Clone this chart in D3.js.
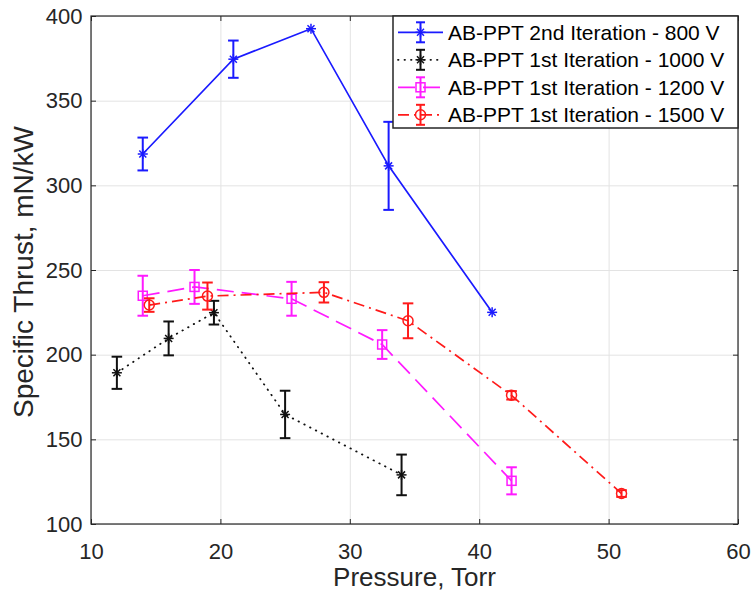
<!DOCTYPE html>
<html>
<head>
<meta charset="utf-8">
<script src="https://cdn.jsdelivr.net/npm/d3@7"></script>
<style>
  body { margin: 0; background: #fff; }
  svg { display: block; font-family: "Liberation Sans", Arial, sans-serif; }
</style>
</head>
<body>
<svg id="chart" width="754" height="596"></svg>
<script>
// pressure (Torr), specific thrust (mN/kW), +/- error
const pressure800 = [14, 21, 27, 33, 41]
const thrust800 = [318.5, 374.5, 392.5, 311.5, 225]
const err800 = [9.7, 11, 0, 26, 0]

const pressure1000 = [12, 16, 19.5, 25, 34]
const thrust1000 = [189.3, 209.6, 224.8, 164.7, 129]
const err1000 = [9.5, 10, 7, 14, 12]

const pressure1200 = [14, 18, 25.5, 32.5, 42.5]
const thrust1200 = [234.8, 240, 233, 206, 125.5]
const err1200 = [11.8, 10, 10, 8.5, 8]

const pressure1500 = [14.5, 19, 28, 34.5, 42.5, 51]
const thrust1500 = [229.3, 234.6, 236.8, 220, 176, 118]
const err1500 = [4, 8, 6, 10.3, 2.5, 2]

const xTicks = [10, 20, 30, 40, 50, 60]
const yTicks = [100, 150, 200, 250, 300, 350, 400]

const seriesNames = [
  "AB-PPT 2nd Iteration - 800 V",
  "AB-PPT 1st Iteration - 1000 V",
  "AB-PPT 1st Iteration - 1200 V",
  "AB-PPT 1st Iteration - 1500 V",
]

const series = [
  { name: seriesNames[0], x: pressure800, y: thrust800, e: err800, color: "#1a1aff", dash: null, marker: "star", lw: 1.7 },
  { name: seriesNames[1], x: pressure1000, y: thrust1000, e: err1000, color: "#111111", dash: "0.5,6", marker: "star", lw: 1.8 },
  { name: seriesNames[2], x: pressure1200, y: thrust1200, e: err1200, color: "#ff1aff", dash: "17,8", marker: "square", lw: 1.7 },
  { name: seriesNames[3], x: pressure1500, y: thrust1500, e: err1500, color: "#ff1a1a", dash: "11,5,2,5", marker: "circle", lw: 1.7 },
]

const margin = { left: 91, top: 16, right: 16, bottom: 72 }
const width = 754 - margin.left - margin.right
const height = 596 - margin.top - margin.bottom
const textColor = "#262626"

const svg = d3.select("#chart")
svg.append("rect").attr("width", 754).attr("height", 596).attr("fill", "#fff")

const g = svg.append("g").attr("transform", `translate(${margin.left},${margin.top})`)

const x = d3.scaleLinear().domain([10, 60]).range([0, width])
const y = d3.scaleLinear().domain([100, 400]).range([height, 0])

// grid
g.append("g")
  .attr("transform", `translate(0,${height})`)
  .call(d3.axisBottom(x).tickValues(xTicks).tickSize(-height).tickFormat(""))
  .call((s) => s.select(".domain").remove())
  .call((s) => s.selectAll("line").attr("stroke", "#e3e3e3").attr("stroke-width", 1))
g.append("g")
  .call(d3.axisLeft(y).tickValues(yTicks).tickSize(-width).tickFormat(""))
  .call((s) => s.select(".domain").remove())
  .call((s) => s.selectAll("line").attr("stroke", "#e3e3e3").attr("stroke-width", 1))

// axes
const styleAxis = (s) => {
  s.select(".domain").remove()
  s.selectAll("line").attr("stroke", textColor)
  s.selectAll("text").attr("fill", textColor).style("font-size", "22px")
}
g.append("g")
  .attr("transform", `translate(0,${height})`)
  .call(d3.axisBottom(x).tickValues(xTicks).tickSize(-5).tickPadding(19))
  .call(styleAxis)
g.append("g")
  .call(d3.axisTop(x).tickValues(xTicks).tickSize(-5).tickFormat(""))
  .call(styleAxis)
g.append("g")
  .call(d3.axisLeft(y).tickValues(yTicks).tickSize(-5).tickPadding(8.5))
  .call(styleAxis)
g.append("g")
  .attr("transform", `translate(${width},0)`)
  .call(d3.axisRight(y).tickValues(yTicks).tickSize(-5).tickFormat(""))
  .call(styleAxis)

g.append("rect")
  .attr("width", width).attr("height", height)
  .attr("fill", "none").attr("stroke", textColor).attr("stroke-width", 1.2)

// axis labels
svg.append("text")
  .attr("x", margin.left + width / 2).attr("y", 586)
  .attr("text-anchor", "middle").attr("fill", textColor)
  .style("font-size", "26px").text("Pressure, Torr")
svg.append("text")
  .attr("transform", `translate(33,${margin.top + height / 2 + 2}) rotate(-90)`)
  .attr("text-anchor", "middle").attr("fill", textColor)
  .style("font-size", "28px").text("Specific Thrust, mN/kW")

const drawMarker = (parent, type, cx, cy, color) => {
  if (type === "star") {
    const r = 5
    const segs = [[-r, 0, r, 0], [0, -r, 0, r], [-r * 0.7, -r * 0.7, r * 0.7, r * 0.7], [-r * 0.7, r * 0.7, r * 0.7, -r * 0.7]]
    segs.forEach((s) => {
      parent.append("line")
        .attr("x1", cx + s[0]).attr("y1", cy + s[1]).attr("x2", cx + s[2]).attr("y2", cy + s[3])
        .attr("stroke", color).attr("stroke-width", 1.5)
    })
  } else if (type === "square") {
    parent.append("rect")
      .attr("x", cx - 4.5).attr("y", cy - 4.5).attr("width", 9).attr("height", 9)
      .attr("fill", "none").attr("stroke", color).attr("stroke-width", 1.5)
  } else {
    parent.append("circle")
      .attr("cx", cx).attr("cy", cy).attr("r", 5)
      .attr("fill", "none").attr("stroke", color).attr("stroke-width", 1.5)
  }
}

const drawErr = (parent, cx, yTop, yBot, color, cap) => {
  parent.append("line")
    .attr("x1", cx).attr("x2", cx).attr("y1", yTop).attr("y2", yBot)
    .attr("stroke", color).attr("stroke-width", 2)
  ;[yTop, yBot].forEach((yy) => {
    parent.append("line")
      .attr("x1", cx - cap).attr("x2", cx + cap).attr("y1", yy).attr("y2", yy)
      .attr("stroke", color).attr("stroke-width", 2)
  })
}

const line = d3.line().x((d) => x(d[0])).y((d) => y(d[1]))

series.forEach((s) => {
  const pts = s.x.map((v, i) => [v, s.y[i], s.e[i]])
  const sg = g.append("g")
  sg.append("path")
    .attr("d", line(pts))
    .attr("fill", "none").attr("stroke", s.color).attr("stroke-width", s.lw)
    .attr("stroke-dasharray", s.dash)
    .attr("stroke-linecap", s.marker === "star" && s.dash ? "round" : "butt")
  pts.forEach((p) => {
    if (p[2] > 0) drawErr(sg, x(p[0]), y(p[1] + p[2]), y(p[1] - p[2]), s.color, 5.3)
    drawMarker(sg, s.marker, x(p[0]), y(p[1]), s.color)
  })
})

// legend
const leg = svg.append("g")
leg.append("rect")
  .attr("x", 393).attr("y", 16).attr("width", 345).attr("height", 112)
  .attr("fill", "#fff").attr("stroke", textColor).attr("stroke-width", 1.5)
series.forEach((s, i) => {
  const ry = 32.3 + i * 27.5
  leg.append("line")
    .attr("x1", 398).attr("x2", 443).attr("y1", ry).attr("y2", ry)
    .attr("stroke", s.color).attr("stroke-width", s.lw)
    .attr("stroke-dasharray", s.dash)
    .attr("stroke-linecap", s.marker === "star" && s.dash ? "round" : "butt")
  drawErr(leg, 420.5, ry - 10, ry + 10, s.color, 4.5)
  drawMarker(leg, s.marker, 420.5, ry, s.color)
  leg.append("text")
    .attr("x", 448).attr("y", ry).attr("dy", "0.36em")
    .attr("fill", "#000").style("font-size", "21px")
    .text(s.name)
})
</script>
</body>
</html>
